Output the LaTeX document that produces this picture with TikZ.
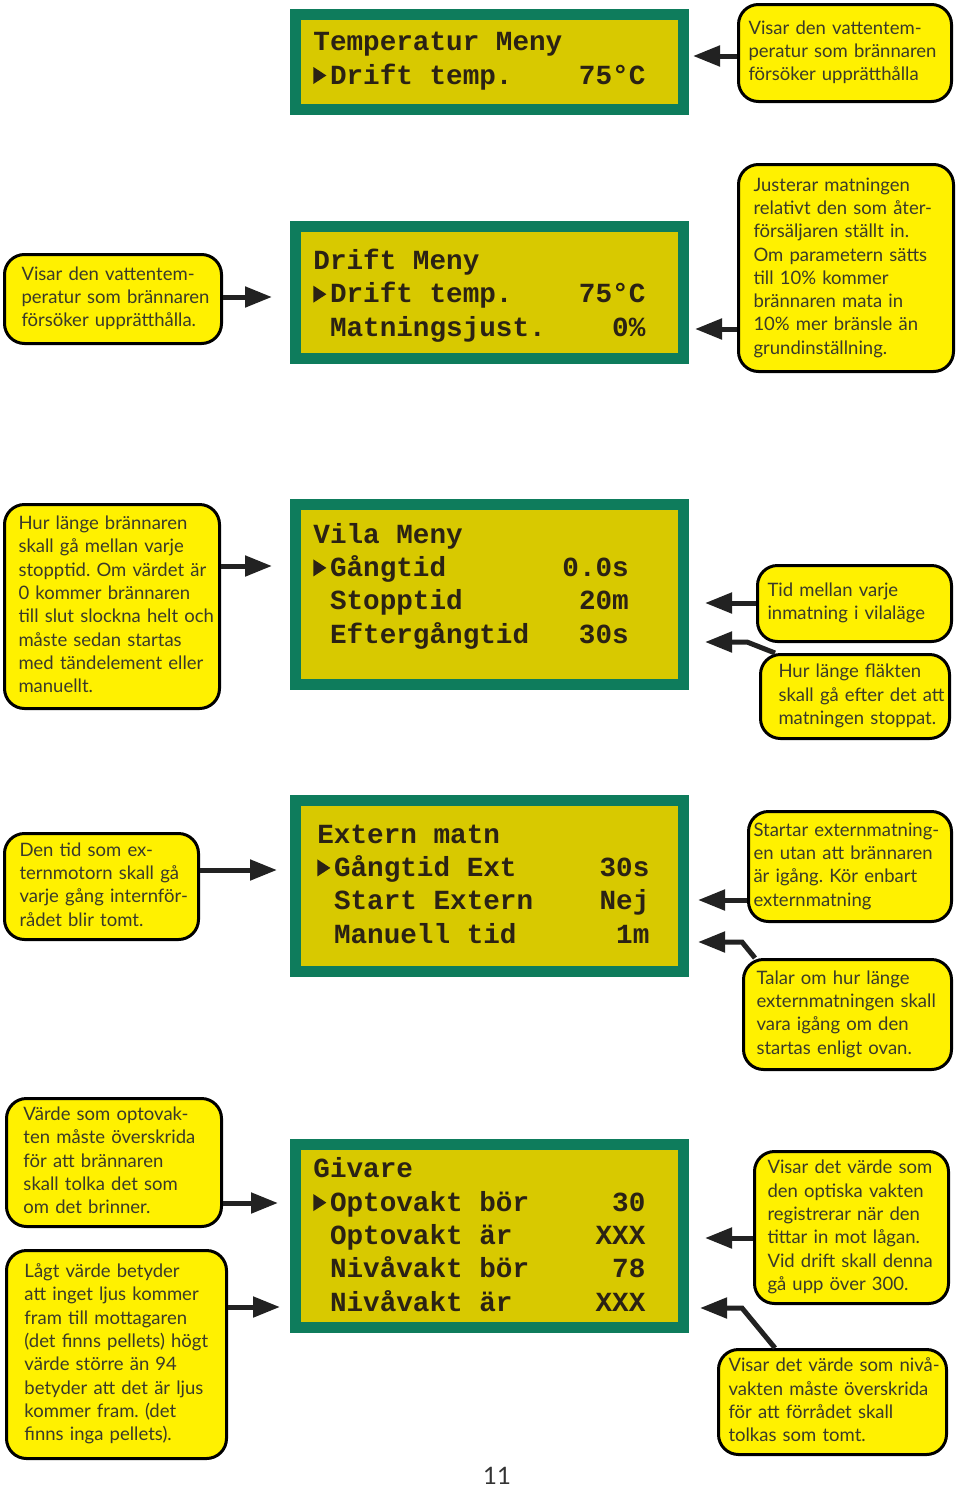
\documentclass[tikz,border=0pt]{standalone}
\usepackage{fontspec}
\setmainfont{Lato}
\newfontfamily\lcdfamily{Liberation Mono}
\usepackage{tikz}
\usetikzlibrary{arrows.meta, positioning}
\usepackage{xcolor}
\definecolor{lcdgreen}{HTML}{0E7C5C}
\definecolor{lcdyellow}{HTML}{D8C900}
\definecolor{lcdink}{HTML}{2B2214}
\definecolor{noteyellow}{HTML}{FFF100}
\definecolor{noteink}{HTML}{3A3A2A}
\definecolor{arrowgrey}{HTML}{222222}
\frenchspacing

\newlength{\lcdcw}\setlength{\lcdcw}{8.3pt}
\newcommand{\lcdrow}[3][20]{\makebox[#1\lcdcw][l]{#2\hfill#3}}
\newcommand{\lcdmark}{\makebox[\lcdcw][l]{\tikz\fill[lcdink] (0pt,0pt) -- (0pt,8.5pt) -- (6.5pt,4.25pt) -- cycle;}}
\newcommand{\lcdgap}{\hspace*{\lcdcw}}
\newcommand{\notelines}[1]{\begin{tabular}{@{}l@{}}#1\end{tabular}}

\tikzset{
  lcdbox/.style={rectangle, draw=lcdgreen, fill=lcdyellow, line width=5.5pt,
                 minimum width=194pt, inner sep=0pt},
  % base anchor of a multi-line node sits on its last line
  lcdlines/.style={anchor=base west, align=left, inner sep=0pt, text=lcdink,
                   font=\lcdfamily\bfseries\fontsize{13.83pt}{16.65pt}\selectfont},
  note/.style={rectangle, draw=black, fill=noteyellow, line width=1.5pt,
               rounded corners=10pt, align=left, inner ysep=0pt, anchor=north west,
               text=noteink, font=\fontsize{9.25pt}{11.65pt}\selectfont},
  pointer/.style={draw=arrowgrey, line width=2.5pt,
                  -{Triangle[length=13.5pt,width=10pt]}},
  pagenum/.style={anchor=base, text=black!80, font=\fontsize{12pt}{14pt}\selectfont},
}

\begin{document}
\begin{tikzpicture}[x=0.5pt, y=-0.5pt]
  \useasboundingbox (0,0) rectangle (960,1488);

  % --- displays ---
  \node[lcdbox, minimum height=47.5pt] (temp) at (489.5,62) {};
  \node[lcdlines] (temptxt) at (313,84)
    {Temperatur Meny\\ \lcdrow{\lcdmark Drift temp.}{75°C}};

  \node[lcdbox, minimum height=66pt] (drift) at (489.5,292.5) {};
  \node[lcdlines] (drifttxt) at (313,336)
    {Drift Meny\\ \lcdrow{\lcdmark Drift temp.}{75°C}\\ \lcdrow{\lcdgap Matningsjust.}{0\%}};

  \node[lcdbox, minimum height=90pt] (vila) at (489.5,594.5) {};
  \node[lcdlines] (vilatxt) at (313,643)
    {Vila Meny\\ \lcdrow[19]{\lcdmark Gångtid}{0.0s}\\ \lcdrow[19]{\lcdgap Stopptid}{20m}\\
     \lcdrow[19]{\lcdgap Eftergångtid}{30s}};

  \node[lcdbox, minimum height=85.5pt] (extern) at (489.5,886) {};
  \node[lcdlines] (externtxt) at (317,943)
    {Extern matn\\ \lcdrow{\lcdmark Gångtid Ext}{30s}\\ \lcdrow{\lcdgap Start Extern}{Nej}\\
     \lcdrow{\lcdgap Manuell tid}{1m}};

  \node[lcdbox, minimum height=91.5pt] (givare) at (489.5,1236) {};
  \node[lcdlines] (givaretxt) at (313,1311)
    {Givare\\ \lcdrow{\lcdmark Optovakt bör}{30}\\ \lcdrow{\lcdgap Optovakt är}{XXX}\\
     \lcdrow{\lcdgap Nivåvakt bör}{78}\\ \lcdrow{\lcdgap Nivåvakt är}{XXX}};

  % --- callouts ---
  \node[note, text width=96.5pt, inner xsep=5pt, minimum height=48.5pt] (c1) at (737,3)
    {\notelines{Visar den vattentem-\\peratur som brännaren\\försöker upprätthålla}};
  \node[note, text width=91.5pt, inner xsep=8.5pt, minimum height=44.5pt] (c2) at (3,253)
    {\notelines{Visar den vattentem-\\peratur som brännaren\\försöker upprätthålla.}};
  \node[note, text width=92.5pt, inner xsep=7.5pt, minimum height=103.5pt] (c3) at (737,163)
    {\notelines{Justerar matningen\\relativt den som åter-\\försäljaren ställt in.\\Om parametern sätts\\
     till 10\% kommer\\brännaren mata in\\10\% mer bränsle än\\grundinställning.}};
  \node[note, text width=93.5pt, inner xsep=7pt, minimum height=102pt] (c4) at (3,503)
    {\notelines{Hur länge brännaren\\skall gå mellan varje\\stopptid. Om värdet är\\0 kommer brännaren\\
     till slut slockna helt och\\måste sedan startas\\med tändelement eller\\manuellt.}};
  \node[note, text width=87pt, inner xsep=5pt, minimum height=38pt] (c5) at (756,564)
    {\notelines{Tid mellan varje\\inmatning i vilaläge}};
  \node[note, text width=76.5pt, inner xsep=9pt, minimum height=42pt] (c6) at (759,653)
    {\notelines{Hur länge fläkten\\skall gå efter det att\\matningen stoppat.}};
  \node[note, text width=82pt, inner xsep=7.5pt, minimum height=53pt] (c7) at (3,832)
    {\notelines{Den tid som ex-\\ternmotorn skall gå\\varje gång internför-\\rådet blir tomt.}};
  \node[note, text width=96.5pt, inner xsep=2.5pt, minimum height=55pt] (c8) at (747,810)
    {\notelines{Startar externmatning-\\en utan att brännaren\\är igång. Kör enbart\\externmatning}};
  \node[note, text width=91pt, inner xsep=6.5pt, minimum height=55pt] (c9) at (742,958)
    {\notelines{Talar om hur länge\\externmatningen skall\\vara igång om den\\startas enligt ovan.}};
  \node[note, text width=90.5pt, inner xsep=8.5pt, minimum height=64pt] (c10) at (5,1097)
    {\notelines{Värde som optovak-\\ten måste överskrida\\för att brännaren\\skall tolka det som\\om det brinner.}};
  \node[note, text width=92pt, inner xsep=9pt, minimum height=104pt] (c11) at (5,1249)
    {\notelines{Lågt värde betyder\\att inget ljus kommer\\fram till mottagaren\\(det finns pellets) högt\\
     värde större än 94\\betyder att det är ljus\\kommer fram. (det\\finns inga pellets).}};
  \node[note, text width=84pt, inner xsep=6.5pt, minimum height=76pt] (c12) at (753,1150)
    {\notelines{Visar det värde som\\den optiska vakten\\registrerar när den\\tittar in mot lågan.\\
     Vid drift skall denna\\gå upp över 300.}};
  \node[note, text width=104pt, inner xsep=5pt, minimum height=52.5pt] (c13) at (717,1348)
    {\notelines{Visar det värde som nivå-\\vakten måste överskrida\\för att förrådet skall\\tolkas som tomt.}};

  % --- pointers ---
  \coordinate (t1) at (693,56);
  \coordinate (t2) at (272,297);
  \coordinate (t3) at (695,329);
  \coordinate (t4) at (272,566);
  \coordinate (t5) at (705,603);
  \coordinate (t6) at (705,642);  \coordinate (k6) at (747,642);
  \coordinate (t7) at (277,870);
  \coordinate (t8) at (698,900);
  \coordinate (t9) at (698,942);  \coordinate (k9) at (742,942);
  \coordinate (t10) at (278,1203);
  \coordinate (t11) at (280,1307);
  \coordinate (t12) at (705,1238);
  \coordinate (t13) at (700,1308); \coordinate (k13) at (742,1308);

  \draw[pointer] (c1.west |- t1) -- (t1);
  \draw[pointer] (c2.east |- t2) -- (t2);
  \draw[pointer] (c3.west |- t3) -- (t3);
  \draw[pointer] (c4.east |- t4) -- (t4);
  \draw[pointer] (c5.west |- t5) -- (t5);
  \draw[pointer] ([xshift=8pt]c6.north west) -- (k6) -- (t6);
  \draw[pointer] (c7.east |- t7) -- (t7);
  \draw[pointer] (c8.west |- t8) -- (t8);
  \draw[pointer] ([xshift=6.5pt]c9.north west) -- (k9) -- (t9);
  \draw[pointer] (c10.east |- t10) -- (t10);
  \draw[pointer] (c11.east |- t11) -- (t11);
  \draw[pointer] (c12.west |- t12) -- (t12);
  \draw[pointer] ([xshift=29pt]c13.north west) -- (k13) -- (t13);

  \node[pagenum] (page) at (497,1484) {11};
\end{tikzpicture}
\end{document}
